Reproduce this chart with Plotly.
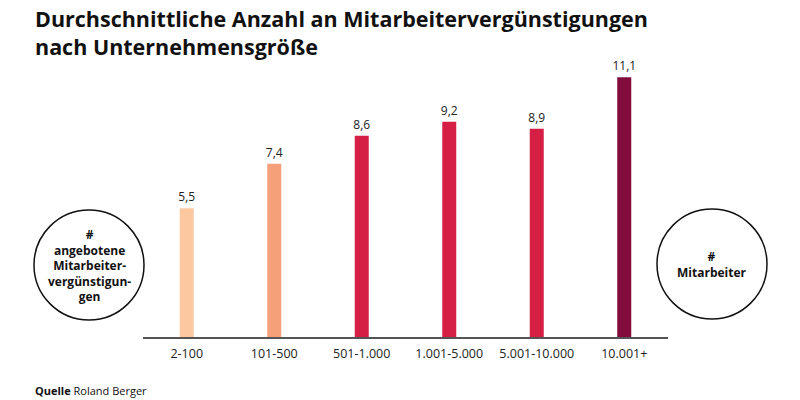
import plotly.graph_objects as go

# Unternehmensgröße (Anzahl Mitarbeiter) und durchschnittliche Anzahl Vergünstigungen
groessen = ['2-100', '101-500', '501-1.000', '1.001-5.000', '5.001-10.000', '10.001+']
werte = [5.5, 7.4, 8.6, 9.2, 8.9, 11.1]
farben = ['#FBC8A0', '#F5A078', '#D61F45', '#D61F45', '#D61F45', '#820C3C']
labels = [f'{v:.1f}'.replace('.', ',') for v in werte]

FONT = 'Open Sans'
W, H = 800, 400

fig = go.Figure()
fig.add_trace(go.Bar(
    x=groessen, y=werte,
    marker=dict(color=farben, line=dict(width=0)),
    width=0.16,
    text=labels, textposition='outside', cliponaxis=False,
    constraintext='none',
    textfont=dict(family=FONT, size=12, color='#222'),
    hoverinfo='skip',
))

fig.update_xaxes(
    domain=[143 / W, 668 / W],
    showline=True, linecolor='#555', linewidth=1.5,
    showgrid=False, ticks='', ticklabelstandoff=4,
    tickfont=dict(family=FONT, size=12.5, color='#222'),
)
fig.update_yaxes(
    domain=[63 / H, 355.5 / H], range=[0, 12.5],
    visible=False, showgrid=False,
)

# Kreise als Achsenbeschriftung
for cx, cy in [(89, 265), (712, 264)]:
    fig.add_shape(
        type='circle', xref='paper', yref='paper',
        xsizemode='pixel', ysizemode='pixel',
        xanchor=cx / W, yanchor=1 - cy / H,
        x0=-55, x1=55, y0=-55, y1=55,
        line=dict(color='#111', width=1.5),
    )

fig.add_annotation(
    x=89 / W, y=1 - 265 / H, xref='paper', yref='paper',
    xanchor='center', yanchor='middle',
    text='<b>#<br>angebotene<br>Mitarbeiter-<br>vergünstigun-<br>gen</b>',
    showarrow=False, align='center',
    font=dict(family=FONT, size=12, color='#111'),
)
fig.add_annotation(
    x=712 / W, y=1 - 264 / H, xref='paper', yref='paper',
    xanchor='center', yanchor='middle',
    text='<b>#<br>Mitarbeiter</b>',
    showarrow=False, align='center',
    font=dict(family=FONT, size=12, color='#111'),
)

# Titel
fig.add_annotation(
    x=33 / W, y=1 - 2 / H, xref='paper', yref='paper',
    xanchor='left', yanchor='top', align='left',
    text='<b>Durchschnittliche Anzahl an Mitarbeitervergünstigungen<br>nach Unternehmensgröße</b>',
    showarrow=False,
    font=dict(family=FONT, size=21.5, color='#111'),
)

# Quelle
fig.add_annotation(
    x=33 / W, y=1 - 390 / H, xref='paper', yref='paper',
    xanchor='left', yanchor='middle',
    text='<b>Quelle</b> Roland Berger',
    showarrow=False,
    font=dict(family=FONT, size=11, color='#111'),
)

fig.update_layout(
    width=W, height=H,
    margin=dict(l=0, r=0, t=0, b=0),
    paper_bgcolor='white', plot_bgcolor='white',
    showlegend=False,
    font=dict(family=FONT),
)

fig.write_html('out.html', config={'displayModeBar': False},
               post_script="document.body.style.margin='0';")
